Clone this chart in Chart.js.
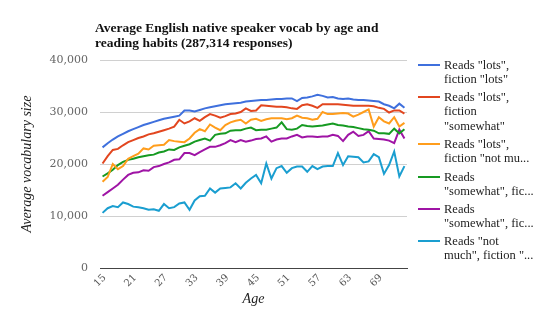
<!DOCTYPE html>
<html>
<head>
<meta charset="utf-8">
<script src="https://cdn.jsdelivr.net/npm/chart.js@4/dist/chart.umd.min.js"></script>
<style>
  body { margin: 0; background: #fff; }
  #wrap { position: relative; width: 553px; height: 321px; overflow: hidden; }
  #c { position: absolute; left: 0; top: 0; }
  #title { position: absolute; left: 95px; top: 20px; font: bold 13.5px "Liberation Serif", serif; line-height: 15px; color: #111; white-space: nowrap; }
  #legend { position: absolute; left: 418px; top: 0; width: 135px; font: 12.5px "Liberation Serif", serif; color: #222; }
  .item { position: absolute; left: 0; }
  .mark { position: absolute; left: 0; width: 22px; height: 2px; }
  .txt { position: absolute; left: 26px; line-height: 14.3px; white-space: nowrap; }
</style>
</head>
<body>
<div id="wrap">
  <canvas id="c" width="553" height="321"></canvas>
  <div id="title">Average English native speaker vocab by age and<br>reading habits (287,314 responses)</div>
  <div id="legend"></div>
</div>
<script>
// age categories, every 6th one gets a tick label
const ages = [15, 16, 17, 18, 19, 20, 21, 22, 23, 24, 25, 26, 27, 28, 29, 30, 31, 32, 33, 34,
  35, 36, 37, 38, 39, 40, 41, 42, 43, 44, 45, 46, 47, 48, 49, 50, 51, 52, 53, 54,
  55, 56, 57, 58, 59, 60, 61, 62, 63, 64, 65, 66, 67, 68, 69, 70, 71, 72, 73, 74];
const yTicks = [0, 10000, 20000, 30000, 40000];

const lotsLots = [23200, 24000, 24700, 25300, 25800, 26300, 26700, 27100, 27500, 27800,
  28100, 28400, 28700, 28900, 29100, 29300, 30300, 30300, 30100, 30400,
  30700, 30900, 31100, 31300, 31500, 31600, 31700, 31800, 32000, 32100,
  32200, 32300, 32300, 32400, 32500, 32500, 32600, 32600, 32100, 32700,
  32800, 33000, 33300, 33100, 32800, 32900, 32600, 32500, 32600, 32400,
  32300, 32300, 32200, 32100, 32000, 31500, 31200, 30700, 31600, 30800];
const lotsSomewhat = [20100, 21500, 22700, 22900, 23600, 24200, 24600, 25000, 25300, 25700,
  25900, 26200, 26500, 26800, 27200, 28500, 27800, 28200, 28800, 28300,
  29000, 29600, 29300, 28900, 29200, 29600, 29700, 30000, 30700, 30200,
  30300, 31300, 31200, 31100, 31000, 31000, 30900, 30700, 30600, 31300,
  31500, 31200, 30800, 31500, 31500, 31500, 31500, 31400, 31300, 31200,
  31200, 31200, 31200, 31100, 30800, 30600, 29900, 30300, 30300, 29700];
const lotsNotMuch = [16600, 17500, 20000, 19000, 19600, 21000, 21500, 22000, 23000, 22800,
  23500, 23600, 23700, 24600, 24400, 24300, 24200, 24900, 26000, 26700,
  26300, 27600, 27000, 26500, 27500, 28000, 28300, 28500, 27800, 28500,
  28700, 28300, 28600, 28800, 28800, 28800, 28600, 28800, 29300, 28900,
  28800, 28500, 28700, 30000, 29600, 29600, 29700, 29800, 29700, 29100,
  29500, 30000, 30500, 27200, 29000, 28200, 27800, 29000, 27200, 27900];
const somewhatA = [17600, 18200, 18900, 19800, 20400, 20800, 21000, 21300, 21500, 21700,
  21800, 22200, 22400, 22800, 22700, 23200, 23500, 23800, 24300, 24600,
  24900, 24500, 25600, 25800, 25900, 26400, 26500, 26500, 26800, 27000,
  26500, 26600, 26600, 26800, 27000, 28000, 26700, 26600, 26800, 27500,
  27300, 27200, 27300, 27400, 27600, 27800, 27500, 27400, 27200, 27100,
  26900, 26700, 26600, 26400, 25900, 25900, 25800, 26800, 25900, 26700];
const somewhatB = [13900, 14600, 15300, 16000, 17000, 17900, 18300, 18400, 18800, 18700,
  19400, 19600, 20000, 20300, 20800, 20900, 22100, 22100, 21700, 22300,
  22800, 23300, 23300, 23600, 24000, 24600, 24200, 24600, 24300, 24500,
  24800, 24900, 25300, 24300, 24700, 24900, 24900, 25300, 25600, 25100,
  25300, 25300, 25200, 25300, 25300, 25600, 25400, 24400, 25600, 26200,
  25400, 25600, 26300, 24900, 24800, 24700, 24500, 24000, 26600, 24900];
const notMuch = [10600, 11500, 11900, 11700, 12600, 12300, 11800, 11700, 11500, 11200,
  11300, 11000, 12300, 11500, 11700, 12400, 12600, 11200, 13000, 13800,
  13900, 15300, 14500, 15300, 15400, 15500, 16300, 15300, 16400, 17200,
  17900, 16300, 20100, 17200, 19200, 19600, 18300, 19200, 19500, 19500,
  18500, 19600, 19000, 19500, 19600, 19600, 22100, 19800, 21500, 21400,
  21300, 20300, 20500, 21900, 21300, 18100, 19800, 22400, 17600, 19600];

// legend text as it shows (truncated) in the original
const legendLines = [
  ['Reads "lots",', 'fiction "lots"'],
  ['Reads "lots",', 'fiction', '"somewhat"'],
  ['Reads "lots",', 'fiction "not mu...'],
  ['Reads', '"somewhat", fic...'],
  ['Reads', '"somewhat", fic...'],
  ['Reads "not', 'much", fiction "...']
];
const colors = ['#3f70dd', '#e2461f', '#ff9d1c', '#169a22', '#9f14a5', '#1a9ed0'];
const seriesData = [lotsLots, lotsSomewhat, lotsNotMuch, somewhatA, somewhatB, notMuch];
const legendTops = [65, 97, 144, 177, 209, 241];

const datasets = seriesData.map((d, i) => ({
  label: legendLines[i].join(' '),
  data: d,
  borderColor: colors[i],
  backgroundColor: colors[i],
  borderWidth: 2,
  pointRadius: 0,
  fill: false,
  tension: 0
}));

// html legend, lines wrap like the original
const lg = document.getElementById('legend');
legendLines.forEach((lines, i) => {
  const it = document.createElement('div');
  it.className = 'item';
  it.style.top = (legendTops[i] - 7) + 'px';
  it.innerHTML = '<div class="mark" style="top:6px;background:' + colors[i] + '"></div>' +
    '<div class="txt" style="top:0">' + lines.join('<br>').replace(/"/g, '&quot;') + '</div>';
  lg.appendChild(it);
});

new Chart(document.getElementById('c'), {
  type: 'line',
  data: { labels: ages, datasets: datasets },
  options: {
    responsive: false,
    animation: false,
    layout: { padding: { top: 60, right: 146, left: 0, bottom: 0 } },
    plugins: {
      legend: { display: false },
      tooltip: { enabled: false }
    },
    scales: {
      x: {
        offset: true,
        grid: { display: false, drawTicks: false },
        border: { color: '#444', width: 1 },
        ticks: {
          autoSkip: false,
          minRotation: 45,
          maxRotation: 45,
          padding: 4,
          labelOffset: 2,
          color: '#555',
          font: { family: 'DejaVu Serif', size: 10 },
          callback: function (v, i) { return i % 6 === 0 ? String(ages[i]) : ''; }
        },
        title: {
          display: true, text: 'Age', color: '#222',
          font: { family: 'Liberation Serif', size: 14, style: 'italic' },
          padding: { top: 0, bottom: 13 }
        },
        afterFit: function (s) { s.height = 53; }
      },
      y: {
        min: 0,
        max: 40000,
        afterBuildTicks: function (s) { s.ticks = yTicks.map(v => ({ value: v })); },
        grid: { color: '#d0d0d0', drawTicks: false },
        border: { display: false },
        ticks: {
          padding: 12,
          color: '#666',
          font: { family: 'DejaVu Serif', size: 11 },
          callback: function (v) { return v.toLocaleString('en-US'); }
        },
        title: {
          display: true, text: 'Average vocabulary size', color: '#222',
          font: { family: 'Liberation Serif', size: 14, style: 'italic' },
          padding: { top: 19, bottom: 0 }
        },
        afterFit: function (s) { s.width = 100; }
      }
    }
  }
});
</script>
</body>
</html>
